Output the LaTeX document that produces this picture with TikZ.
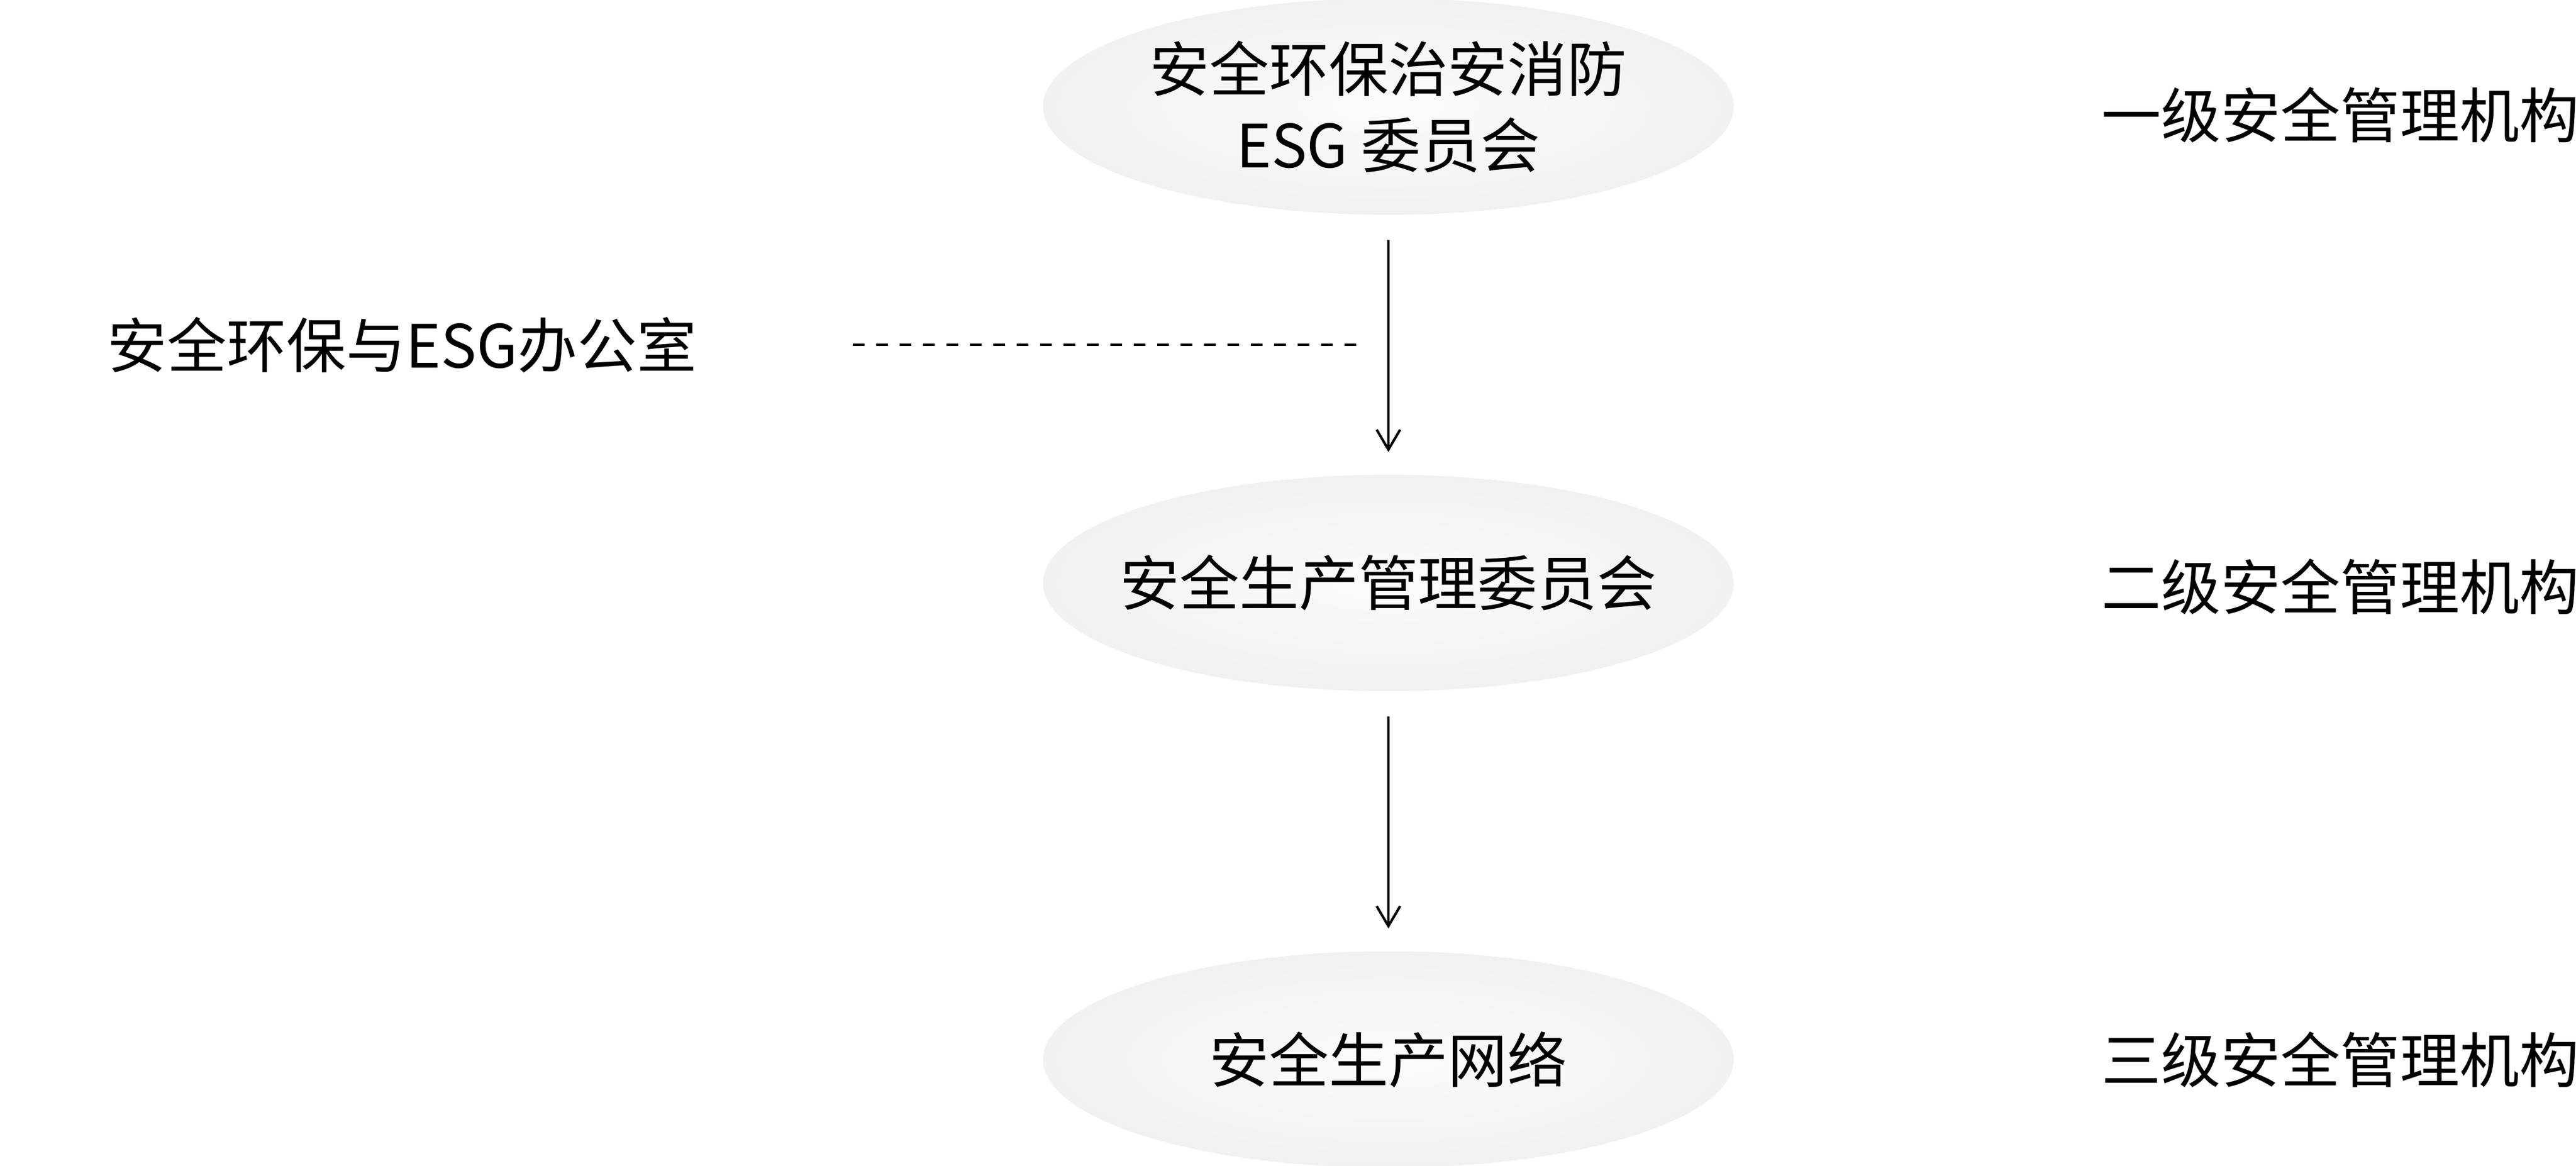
\documentclass[tikz,border=0pt]{standalone}
\usepackage{fontspec}
\setmainfont{Noto Sans CJK SC}
\usetikzlibrary{shapes.geometric,arrows.meta}
\begin{document}
\begin{tikzpicture}[every node/.style={font=\fontsize{29}{37}\selectfont, inner sep=0pt},
    org/.style={ellipse, inner xsep=-1.2cm, minimum width=11.8cm, minimum height=3.7cm, shading=radial, inner color=gray!3, outer color=gray!11, align=center},
    level/.style={anchor=west},
    link/.style={line width=1.2pt, -{Straight Barb[length=3.4mm,width=4mm]}, shorten <=0.42cm, shorten >=0.38cm}]
  \useasboundingbox (0,0) rectangle (44.01,19.91);
  \node[org] (esg) at (23.72,18.09) {安全环保治安消防\\ESG 委员会};
  \node[org] (prod) at (23.72,9.95) {安全生产管理委员会};
  \node[org] (net) at (23.72,1.81) {安全生产网络};
  \node (office) at (6.87,14.02) {安全环保与ESG办公室};
  \node[level] (lvlone) at (35.9,17.95) {一级安全管理机构};
  \node[level] (lvltwo) at (35.9,9.89) {二级安全管理机构};
  \node[level] (lvlthree) at (35.9,1.81) {三级安全管理机构};
  \coordinate (dashend) at (23.35,14.02);

  \draw[link] (esg) -- (prod);
  \draw[link] (prod) -- (net);
  \draw[line width=1pt, dash pattern=on 2mm off 2mm] ([xshift=2.66cm]office.east) -- (dashend);
\end{tikzpicture}
\end{document}
